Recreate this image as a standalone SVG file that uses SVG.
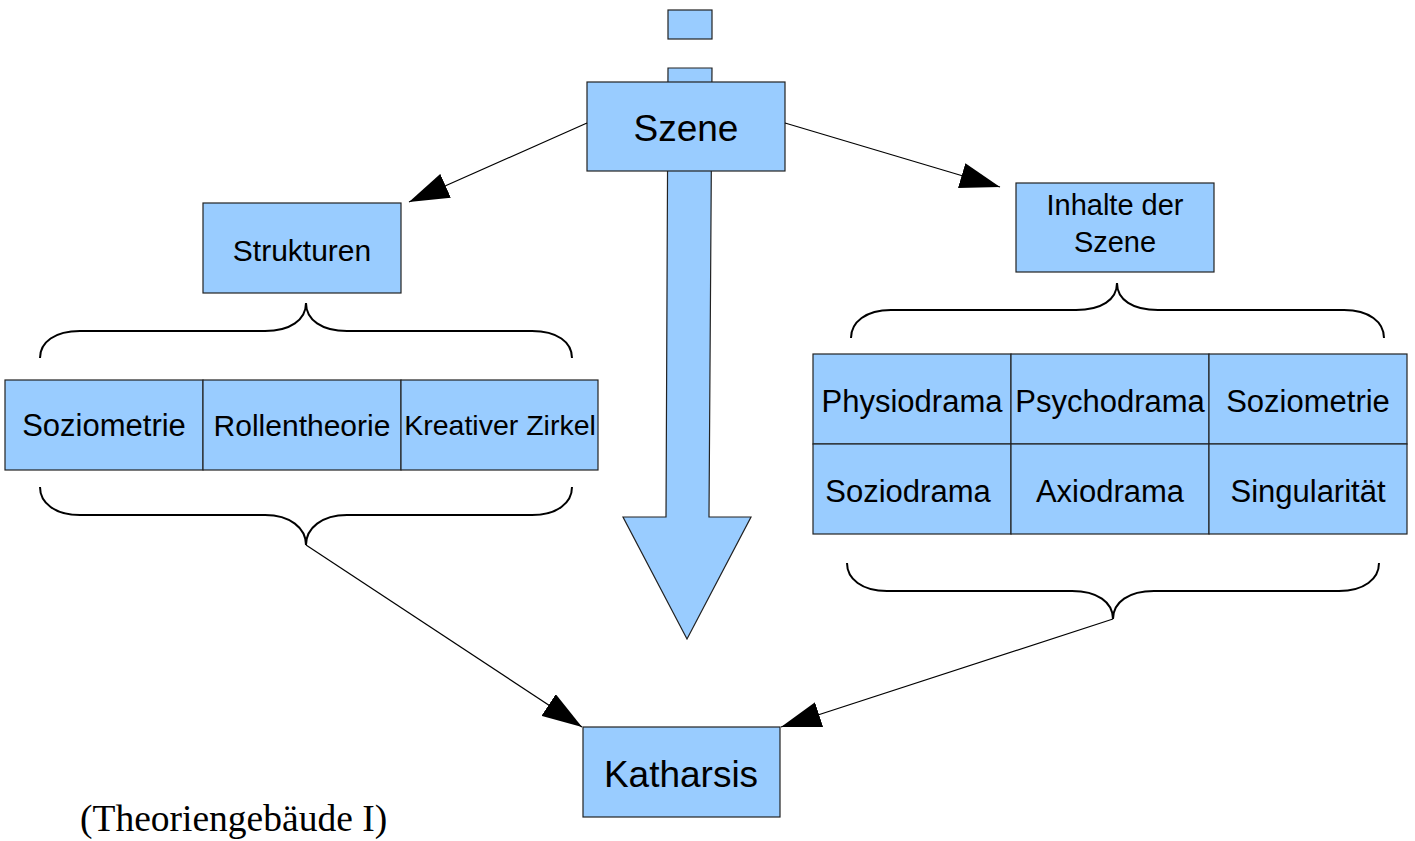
<svg xmlns="http://www.w3.org/2000/svg" width="1415" height="841" viewBox="0 0 1415 841">
<style>
.box{fill:#99ccff;stroke:#222;stroke-width:1.2}
.t{font-family:"Liberation Sans",Arial,sans-serif;fill:#000;text-anchor:middle}
.brace{fill:none;stroke:#000;stroke-width:2}
.con{fill:none;stroke:#000;stroke-width:1.2}
</style>
<defs>
<marker id="ah" viewBox="0 0 40 26" refX="40" refY="13" markerWidth="40" markerHeight="26" markerUnits="userSpaceOnUse" orient="auto">
<path d="M0,0 L40,13 L0,26 z" fill="#000"/>
</marker>
</defs>
<g id="top-square"><rect class="box" x="668" y="10" width="44" height="29"/></g>
<g id="big-arrow"><polygon class="box" points="668,68 712,68 709,517 751,517 687,639 623,517 666,517"/></g>
<g id="szene"><rect class="box" x="587" y="82" width="198" height="89"/><text class="t" x="686" y="141" font-size="37">Szene</text></g>
<g id="strukturen"><rect class="box" x="203" y="203" width="198" height="90"/><text class="t" x="302" y="261" font-size="30">Strukturen</text></g>
<g id="inhalte"><rect class="box" x="1016" y="183" width="198" height="89"/><text class="t" x="1115" y="215" font-size="29">Inhalte der</text><text class="t" x="1115" y="252" font-size="29">Szene</text></g>
<g id="left-table">
<rect class="box" x="5" y="380" width="198" height="90"/>
<rect class="box" x="203" y="380" width="198" height="90"/>
<rect class="box" x="401" y="380" width="197" height="90"/>
<text class="t" x="104" y="436" font-size="31">Soziometrie</text>
<text class="t" x="302" y="436" font-size="30">Rollentheorie</text>
<text class="t" x="500" y="435" font-size="28.5">Kreativer Zirkel</text>
</g>
<g id="right-table">
<rect class="box" x="813" y="354" width="198" height="90"/>
<rect class="box" x="1011" y="354" width="198" height="90"/>
<rect class="box" x="1209" y="354" width="198" height="90"/>
<rect class="box" x="813" y="444" width="198" height="90"/>
<rect class="box" x="1011" y="444" width="198" height="90"/>
<rect class="box" x="1209" y="444" width="198" height="90"/>
<text class="t" x="912" y="412" font-size="31">Physiodrama</text>
<text class="t" x="1110" y="412" font-size="31">Psychodrama</text>
<text class="t" x="1308" y="412" font-size="31">Soziometrie</text>
<text class="t" x="908" y="502" font-size="31">Soziodrama</text>
<text class="t" x="1110" y="502" font-size="31">Axiodrama</text>
<text class="t" x="1308" y="502" font-size="31">Singularität</text>
</g>
<g id="katharsis"><rect class="box" x="583" y="727" width="197" height="90"/><text class="t" x="681" y="787" font-size="37">Katharsis</text></g>
<g id="braces">
<path class="brace" d="M40,358 C40,342 55,331 80,331 L265,331 C290,331 306,320 306,303 C306,320 322,331 347,331 L532,331 C557,331 572,342 572,358"/>
<path class="brace" d="M40,487 C40,503 55,515 80,515 L265,515 C290,515 306,528 306,545 C306,528 322,515 347,515 L532,515 C557,515 572,503 572,487"/>
<path class="brace" d="M851,338 C851,322 866,310 891,310 L1076,310 C1101,310 1117,300 1117,283 C1117,300 1133,310 1158,310 L1344,310 C1369,310 1384,322 1384,338"/>
<path class="brace" d="M847,563 C847,579 862,591 887,591 L1072,591 C1097,591 1113,602 1113,619 C1113,602 1129,591 1154,591 L1339,591 C1364,591 1379,579 1379,563"/>
</g>
<g id="connectors">
<line class="con" x1="587" y1="123" x2="409" y2="202" marker-end="url(#ah)"/>
<line class="con" x1="785" y1="123" x2="1000" y2="187" marker-end="url(#ah)"/>
<line class="con" x1="306" y1="545" x2="582" y2="727" marker-end="url(#ah)"/>
<line class="con" x1="1113" y1="619" x2="781" y2="727" marker-end="url(#ah)"/>
</g>
<text x="80" y="831" font-family="Liberation Serif,'Times New Roman',serif" font-size="37.5" fill="#000">(Theoriengebäude I)</text>
</svg>
